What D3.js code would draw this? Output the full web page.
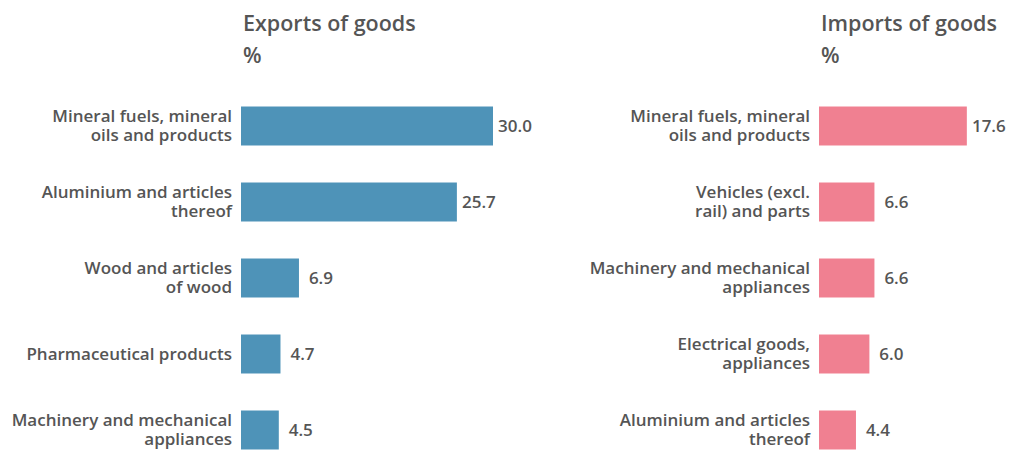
<!DOCTYPE html>
<html>
<head>
<meta charset="utf-8">
<script src="https://cdn.jsdelivr.net/npm/d3@7"></script>
<style>
  body { margin: 0; background: #fff; }
  svg text { font-family: 'Open Sans', sans-serif; font-weight: 600; fill: #555; }
</style>
</head>
<body>
<svg id="chart"></svg>
<script>
const WIDTH = 1011
const HEIGHT = 452

const exportCategories = [
  'Mineral fuels, mineral\noils and products',
  'Aluminium and articles\nthereof',
  'Wood and articles\nof wood',
  'Pharmaceutical products',
  'Machinery and mechanical\nappliances'
]
const exportValues = [30.0, 25.7, 6.9, 4.7, 4.5]

const importCategories = [
  'Mineral fuels, mineral\noils and products',
  'Vehicles (excl.\nrail) and parts',
  'Machinery and mechanical\nappliances',
  'Electrical goods,\nappliances',
  'Aluminium and articles\nthereof'
]
const importValues = [17.6, 6.6, 6.6, 6.0, 4.4]

const svg = d3.select('#chart')
  .attr('width', WIDTH)
  .attr('height', HEIGHT)

const xScale = d3.scaleLinear().domain([0, 30]).range([0, 252])

renderPanel({ title: 'Exports of goods', categories: exportCategories, values: exportValues, left: 241, color: '#4e93b8' })
renderPanel({ title: 'Imports of goods', categories: importCategories, values: importValues, left: 819, color: '#f08091' })

function renderPanel({ title, categories, values, left, color }) {
  const rows = categories.map((c, i) => ({ label: c, value: values[i], i }))

  const yScale = d3.scaleBand()
    .domain(d3.range(rows.length))
    .range([88, 468])
    .paddingInner(0.487)
    .paddingOuter(0.2435)

  const g = svg.append('g').attr('transform', `translate(${left},0)`)

  g.append('text')
    .attr('x', 2)
    .attr('y', 31)
    .style('font-size', '21.5px')
    .text(title)

  g.append('text')
    .attr('x', 2)
    .attr('y', 63)
    .style('font-size', '21.5px')
    .text('%')

  g.selectAll('.bar')
    .data(rows)
    .enter().append('rect')
    .attr('class', 'bar')
    .attr('x', 0)
    .attr('y', d => yScale(d.i))
    .attr('width', d => xScale(d.value))
    .attr('height', yScale.bandwidth())
    .attr('fill', color)

  // value labels are centred a fixed distance past the bar end
  g.selectAll('.value')
    .data(rows)
    .enter().append('text')
    .attr('class', 'value')
    .attr('text-anchor', 'middle')
    .attr('x', d => xScale(d.value) + 22)
    .attr('y', d => yScale(d.i) + yScale.bandwidth() / 2)
    .attr('dy', '.35em')
    .style('font-size', '17px')
    .text(d => d.value.toFixed(1))

  // category labels, wrapped on \n

  const labels = g.selectAll('.cat')
    .data(rows)
    .enter().append('text')
    .attr('class', 'cat')
    .attr('text-anchor', 'end')
    .style('font-size', '17px')
    .attr('transform', d => `translate(-9,${yScale(d.i) + yScale.bandwidth() / 2})`)

  labels.each(function (d) {
    const lines = d.label.split('\n')
    const lineH = 19
    const start = -(lines.length - 1) * lineH / 2
    d3.select(this).selectAll('tspan')
      .data(lines)
      .enter().append('tspan')
      .attr('x', 0)
      .attr('y', (l, k) => start + k * lineH)
      .attr('dy', '.35em')
      .text(l => l)
  })
}
</script>
</body>
</html>
